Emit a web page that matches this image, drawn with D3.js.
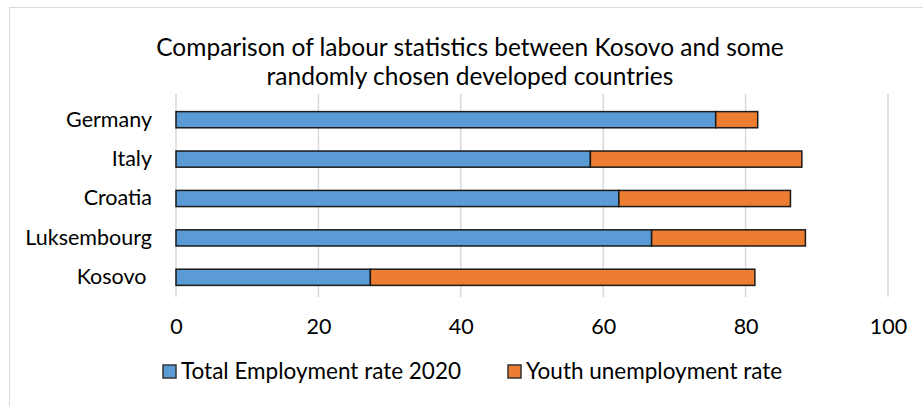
<!DOCTYPE html>
<html>
<head>
<meta charset="utf-8">
<script src="https://cdn.jsdelivr.net/npm/d3@7"></script>
<style>
  body { margin: 0; background: #fff; }
  text { font-family: Lato, "Open Sans", sans-serif; fill: #000; }
</style>
</head>
<body>
<div id="container"></div>
<script>
const countries = ["Germany", "Italy", "Croatia", "Luksembourg", "Kosovo "];
const employment = [75.8, 58.2, 62.2, 66.8, 27.3];
const youthUnemployment = [5.9, 29.7, 24.1, 21.6, 54.0];
const xTicks = [0, 20, 40, 60, 80, 100];
const seriesNames = ["Total Employment rate 2020", "Youth unemployment rate"];
const titleLines = ["Comparison of labour statistics between Kosovo and some",
                    "randomly chosen developed countries"];

const width = 923, height = 406;
const margin = { left: 176, right: 923 - 888, top: 100, bottom: 406 - 297 };
const colors = ["#5b9bd5", "#ed7d31"];

const svg = d3.select('#container')
    .append('svg').attr('width', width).attr('height', height);

// chart frame (only top/left edges are visible in the crop)
svg.append('rect')
    .attr('x', 9.5).attr('y', 7.5)
    .attr('width', width + 20).attr('height', height + 20)
    .attr('fill', 'none').attr('stroke', '#d9d9d9');

const xScale = d3.scaleLinear().domain([0, 100]).range([margin.left, width - margin.right]);
const yScale = d3.scaleBand().domain(countries)
    .range([margin.top, height - margin.bottom]).paddingInner(0.59).paddingOuter(0.295);

// gridlines
svg.append('g').selectAll('line').data(xTicks).join('line')
    .attr('x1', d => xScale(d)).attr('x2', d => xScale(d))
    .attr('y1', margin.top - 6).attr('y2', height - margin.bottom)
    .attr('stroke', '#d9d9d9').attr('stroke-width', 1.5);

// x axis labels
const xAxis = d3.axisBottom(xScale).tickValues(xTicks).tickSize(0).tickPadding(0);
const gx = svg.append('g').attr('transform', `translate(0, ${height - margin.bottom + 22})`).call(xAxis);
gx.select('.domain').remove();
gx.selectAll('text').attr('font-size', 21.5).attr('font-family', 'Lato').attr('fill', '#000');

// y axis labels
const yAxis = d3.axisLeft(yScale).tickSize(0).tickPadding(24);
const gy = svg.append('g').attr('transform', `translate(${margin.left}, 0)`).call(yAxis);
gy.select('.domain').remove();
gy.selectAll('text').attr('font-size', 21.5).attr('font-family', 'Lato').attr('fill', '#000')
    .style('white-space', 'pre');

// stacked bars
const rows = countries.map((c, i) => ({ country: c, values: [employment[i], youthUnemployment[i]] }));
const stack = d3.stack().keys([0, 1]).value((d, k) => d.values[k]);
const series = stack(rows);

svg.append('g').selectAll('g').data(series).join('g')
    .attr('fill', (d, i) => colors[i])
    .selectAll('rect').data(d => d).join('rect')
    .attr('x', d => xScale(d[0]))
    .attr('y', d => yScale(d.data.country))
    .attr('width', d => xScale(d[1]) - xScale(d[0]))
    .attr('height', yScale.bandwidth())
    .attr('stroke', '#1a1a1a').attr('stroke-width', 1.5);

// title
svg.append('g').selectAll('text').data(titleLines).join('text')
    .attr('x', 470).attr('y', (d, i) => 56 + i * 29)
    .attr('text-anchor', 'middle').attr('font-size', 24.5)
    .text(d => d);

// legend
const legendX = [163, 508];
const legend = svg.append('g').selectAll('g').data(seriesNames).join('g')
    .attr('transform', (d, i) => `translate(${legendX[i]}, 365)`);
legend.append('rect')
    .attr('width', 13).attr('height', 13)
    .attr('fill', (d, i) => colors[i])
    .attr('stroke', '#333').attr('stroke-width', 1.5);
legend.append('text')
    .attr('x', 18).attr('y', 14).attr('font-size', 22.5)
    .text(d => d);
</script>
</body>
</html>
